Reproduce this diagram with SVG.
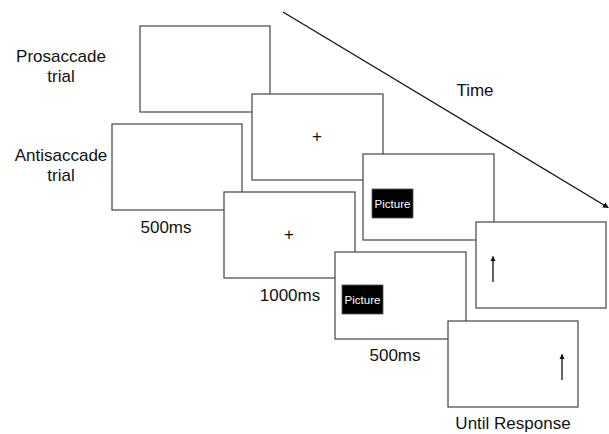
<svg xmlns="http://www.w3.org/2000/svg" width="609" height="434" viewBox="0 0 609 434">
<style>
.box{fill:#fff;stroke:#444;stroke-width:1.2}
.lbl{font-family:"Liberation Sans",Arial,sans-serif;font-size:17px;fill:#111;text-anchor:middle}
.plus{font-family:"Liberation Sans",Arial,sans-serif;font-size:17px;fill:#111;text-anchor:middle}
.pic{fill:#000;stroke:#555;stroke-width:0.8}
.pict{font-family:"Liberation Sans",Arial,sans-serif;font-size:11.5px;fill:#fff;text-anchor:middle}
.conn{stroke:#111;stroke-width:1.3;fill:none}
</style>
<defs>
<marker id="ah" markerWidth="6" markerHeight="6" refX="5" refY="3" orient="auto" markerUnits="userSpaceOnUse">
<path d="M0,0 L6,3 L0,6 z" fill="#111"/>
</marker>
<marker id="ahs" markerWidth="5" markerHeight="6" refX="4.5" refY="3" orient="auto" markerUnits="userSpaceOnUse">
<path d="M0,0.5 L5,3 L0,5.5 z" fill="#111"/>
</marker>
</defs>
<g id="labels">
<text class="lbl" x="61" y="62">Prosaccade</text>
<text class="lbl" x="61" y="82">trial</text>
<text class="lbl" x="61" y="161">Antisaccade</text>
<text class="lbl" x="61" y="181">trial</text>
<text class="lbl" x="475" y="96">Time</text>
<text class="lbl" x="166" y="233">500ms</text>
<text class="lbl" x="290" y="301">1000ms</text>
<text class="lbl" x="395" y="361">500ms</text>
<text class="lbl" x="513" y="429">Until Response</text>
</g>
<g id="connectors">
<line class="conn" x1="283" y1="12" x2="608" y2="207.5" marker-end="url(#ah)"/>
</g>
<g id="pro-blank"><rect class="box" x="140" y="26" width="130" height="86"/></g>
<g id="pro-fixation"><rect class="box" x="252" y="94" width="131" height="86"/><text class="plus" x="317" y="142">+</text></g>
<g id="pro-picture"><rect class="box" x="363" y="154" width="131" height="86"/><rect class="pic" x="372" y="189" width="41" height="29"/><text class="pict" x="392.5" y="207.5">Picture</text></g>
<g id="pro-response"><rect class="box" x="476" y="222" width="130" height="86"/><line class="conn" x1="493" y1="282" x2="493" y2="256.5" marker-end="url(#ahs)"/></g>
<g id="anti-blank"><rect class="box" x="112" y="124" width="130" height="86"/></g>
<g id="anti-fixation"><rect class="box" x="224" y="192" width="131" height="86"/><text class="plus" x="289" y="240">+</text></g>
<g id="anti-picture"><rect class="box" x="335" y="252" width="131" height="87"/><rect class="pic" x="342" y="285" width="41" height="29"/><text class="pict" x="362.5" y="303.5">Picture</text></g>
<g id="anti-response"><rect class="box" x="448" y="321" width="130" height="86"/><line class="conn" x1="562" y1="380" x2="562" y2="354.5" marker-end="url(#ahs)"/></g>
</svg>
